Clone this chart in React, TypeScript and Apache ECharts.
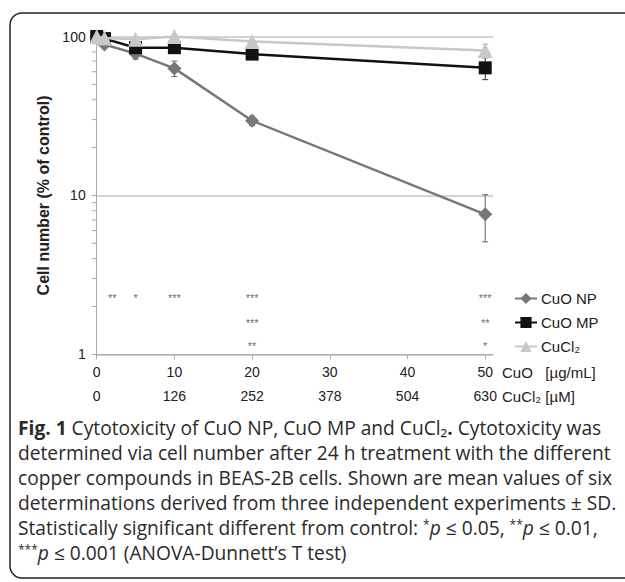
import React, { useEffect, useRef } from 'react';
import * as echarts from 'echarts';

// ---- data ----
const concentrations = [0, 1, 5, 10, 20, 50];
const cuoNpMean = [100, 89, 78, 63, 29.5, 7.6];
const cuoNpSd = [0, 3, 6, 7, 2, 2.5];
const cuoMpMean = [100, 97, 85, 85, 77.5, 63.5];
const cuoMpSd = [0, 2, 3, 3, 3, 10];
const cuCl2Mean = [100, 98, 96, 100, 93, 81.5];
const cuCl2Sd = [0, 2, 2, 2, 3, 8];

const cuoTickLabels = [0, 10, 20, 30, 40, 50];
const cuCl2TickLabels = [0, 126, 252, 378, 504, 630];
const yMinorTicks = [2, 3, 4, 5, 6, 7, 8, 9, 20, 30, 40, 50, 60, 70, 80, 90];

const starsNpX = [2, 5, 10, 20, 50];
const starsNp = ['**', '*', '***', '***', '***'];
const starsMpX = [20, 50];
const starsMp = ['***', '**'];
const starsClX = [20, 50];
const starsCl = ['**', '*'];
const starRowY = [2.25, 1.58, 1.12];

const captionLines = [
  '{b|Fig. 1} Cytotoxicity of CuO NP, CuO MP and CuCl₂{b|.} Cytotoxicity was',
  'determined via cell number after 24 h treatment with the different',
  'copper compounds in BEAS-2B cells. Shown are mean values of six',
  'determinations derived from three independent experiments ± SD.',
  'Statistically significant different from control: {sup|*}{i|p} ≤ 0.05, {sup|**}{i|p} ≤ 0.01,',
  '{sup|***}{i|p} ≤ 0.001 (ANOVA-Dunnett’s T test)',
];

const FONT = '"Liberation Sans", Arial, Helvetica, sans-serif';
const CAP_FONT = '"Open Sans", "Noto Sans", sans-serif';
const CAP_SIZE = 19.2;
const CAP_COLOR = '#2a2a2a';

const X_MAX = 51;
const CL_FACTOR = 12.6;

function errSeries(name: string, mean: number[], sd: number[], color: string) {
  const data = concentrations
    .map((x, i) => [x, mean[i] - sd[i], mean[i] + sd[i], sd[i]])
    .filter((d) => d[3] > 0);
  return {
    type: 'custom',
    name,
    data,
    z: 1,
    silent: true,
    itemStyle: { color },
    renderItem: (params: any, api: any) => {
      const x = api.value(0);
      const lo = api.coord([x, api.value(1)]);
      const hi = api.coord([x, api.value(2)]);
      const c = 3;
      const st = { stroke: color, lineWidth: 1 };
      return {
        type: 'group',
        children: [
          { type: 'line', shape: { x1: lo[0], y1: lo[1], x2: hi[0], y2: hi[1] }, style: st },
          { type: 'line', shape: { x1: lo[0] - c, y1: lo[1], x2: lo[0] + c, y2: lo[1] }, style: st },
          { type: 'line', shape: { x1: hi[0] - c, y1: hi[1], x2: hi[0] + c, y2: hi[1] }, style: st },
        ],
      };
    },
  };
}

function starSeries(xs: number[], labels: string[], y: number) {
  return {
    type: 'scatter',
    data: xs.map((x, i) => ({ value: [x, y], name: labels[i] })),
    symbol: 'circle',
    symbolSize: 1,
    itemStyle: { color: 'rgba(255,255,255,0)' },
    silent: true,
    clip: false,
    z: 6,
    label: {
      show: true,
      position: 'inside',
      formatter: (p: any) => p.name,
      fontSize: 11,
      color: '#444',
      fontFamily: FONT,
    },
  };
}

export default function App() {
  const ref = useRef<HTMLDivElement>(null);
  useEffect(() => {
    document.body.style.margin = '0';
    const chart = echarts.init(ref.current!, undefined, { renderer: 'svg' });
    const option: any = {
      animation: false,
      backgroundColor: '#fff',
      textStyle: { fontFamily: FONT },
      grid: { left: 96.7, top: 36.5, width: 396.3, height: 317.8, containLabel: false },
      legend: {
        orient: 'vertical',
        left: 514,
        top: 291,
        padding: 0,
        itemWidth: 22,
        itemHeight: 14,
        itemGap: 9,
        data: ['CuO NP', 'CuO MP', 'CuCl₂'],
        textStyle: { fontSize: 15, color: '#222', fontFamily: FONT, lineHeight: 14, padding: [0, 0, 0, -1] },
      },
      xAxis: [
        {
          type: 'value',
          min: 0,
          max: X_MAX,
          axisLine: { show: true, lineStyle: { color: '#aaa', width: 1 } },
          axisTick: { show: true, length: 5, lineStyle: { color: '#aaa' }, customValues: cuoTickLabels },
          axisLabel: { customValues: cuoTickLabels, fontSize: 14, color: '#222', margin: 11 },
          splitLine: { show: false },
        },
        {
          type: 'value',
          min: 0,
          max: X_MAX * CL_FACTOR,
          position: 'bottom',
          offset: 24,
          axisLine: { show: false },
          axisTick: { show: false },
          axisLabel: { customValues: cuCl2TickLabels, fontSize: 14, color: '#222', margin: 11 },
          splitLine: { show: false },
        },
      ],
      yAxis: {
        type: 'log',
        logBase: 10,
        min: 1,
        max: 100,
        name: 'Cell number (% of control)',
        nameLocation: 'middle',
        nameGap: 42,
        nameTextStyle: { fontSize: 16, fontWeight: 'bold', color: '#222' },
        axisLine: { show: true, lineStyle: { color: '#aaa', width: 1 } },
        axisTick: { show: true, length: 5, lineStyle: { color: '#aaa' } },
        axisLabel: { fontSize: 14, color: '#222', margin: 11 },
        splitLine: { show: true, lineStyle: { color: '#c4c4c4', width: 1.5 } },
      },
      series: [
        {
          type: 'custom',
          data: yMinorTicks.map((v) => [0, v]),
          silent: true,
          z: 0,
          itemStyle: { color: '#aaa' },
          renderItem: (params: any, api: any) => {
            const p = api.coord([api.value(0), api.value(1)]);
            return {
              type: 'line',
              shape: { x1: p[0] - 5, y1: p[1], x2: p[0], y2: p[1] },
              style: { stroke: '#aaa', lineWidth: 1 },
            };
          },
        },
        errSeries('errNP', cuoNpMean, cuoNpSd, '#666'),
        errSeries('errMP', cuoMpMean, cuoMpSd, '#333'),
        errSeries('errCl', cuCl2Mean, cuCl2Sd, '#aaa'),
        {
          type: 'line',
          name: 'CuO NP',
          data: concentrations.map((x, i) => [x, cuoNpMean[i]]),
          symbol: 'diamond',
          symbolSize: 14,
          color: '#777',
          lineStyle: { color: '#777', width: 2.5 },
          itemStyle: { color: '#777' },
          z: 3,
        },
        {
          type: 'line',
          name: 'CuO MP',
          data: concentrations.map((x, i) => [x, cuoMpMean[i]]),
          symbol: 'rect',
          symbolSize: 13,
          color: '#111',
          lineStyle: { color: '#111', width: 2.5 },
          itemStyle: { color: '#111' },
          z: 4,
        },
        {
          type: 'line',
          name: 'CuCl₂',
          data: concentrations.map((x, i) => [x, cuCl2Mean[i]]),
          symbol: 'triangle',
          symbolSize: 15,
          color: '#c8c8c8',
          lineStyle: { color: '#c8c8c8', width: 2.5 },
          itemStyle: { color: '#c8c8c8' },
          z: 5,
        },
        starSeries(starsNpX, starsNp, starRowY[0]),
        starSeries(starsMpX, starsMp, starRowY[1]),
        starSeries(starsClX, starsCl, starRowY[2]),
      ],
      graphic: [
        {
          type: 'rect',
          shape: { x: 10, y: 13, width: 700, height: 565, r: 12 },
          style: { fill: 'none', stroke: '#222', lineWidth: 1.5 },
          silent: true,
        },
        {
          type: 'text',
          x: 502,
          y: 372,
          style: { text: 'CuO   [µg/mL]', fontSize: 15, fill: '#222', fontFamily: FONT, verticalAlign: 'middle' },
        },
        {
          type: 'text',
          x: 502,
          y: 396,
          style: { text: 'CuCl₂ [µM]', fontSize: 15, fill: '#222', fontFamily: FONT, verticalAlign: 'middle' },
        },
        ...captionLines.map((t, i) => ({
          type: 'text',
          x: 18,
          y: 427 + i * 25,
          style: {
            text: t,
            fontSize: CAP_SIZE,
            fill: CAP_COLOR,
            fontFamily: CAP_FONT,
            verticalAlign: 'middle',
            lineHeight: 22,
            rich: {
              b: { fontWeight: 'bold', fontSize: CAP_SIZE, fontFamily: CAP_FONT, fill: CAP_COLOR, lineHeight: 22 },
              i: { fontStyle: 'italic', fontSize: CAP_SIZE, fontFamily: CAP_FONT, fill: CAP_COLOR, lineHeight: 22 },
              sup: { fontSize: 12, fontFamily: CAP_FONT, fill: CAP_COLOR, lineHeight: 12, padding: [0, 0, 6, 0] },
            },
          },
        })),
      ],
    };
    chart.setOption(option);
    return () => chart.dispose();
  }, []);
  return <div ref={ref} style={{ width: 625, height: 582 }} />;
}
